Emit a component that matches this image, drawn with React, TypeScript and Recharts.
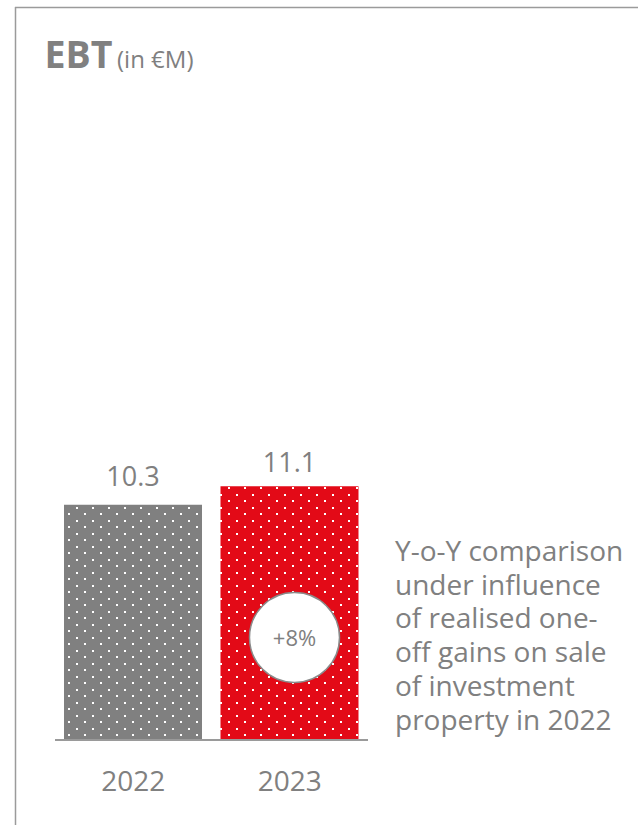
import React from "react";
import { BarChart, Bar, XAxis, YAxis, LabelList, Cell } from "recharts";

const years = ["2022", "2023"];
const ebt = [10.3, 11.1];
const barFills = ["url(#dotsGray)", "url(#dotsRed)"];
const titleMain = "EBT";
const titleUnit = "(in €M)";
const noteLines = [
  "Y-o-Y comparison",
  "under influence",
  "of realised one-",
  "off gains on sale",
  "of investment",
  "property in 2022",
];

const changePct = Math.round((ebt[1] / ebt[0] - 1) * 100);
const badges = ["", `+${changePct}%`];

const data = years.map((y, i) => ({ year: y, value: ebt[i], badge: badges[i] }));

const FONT = "'Open Sans', sans-serif";
const GRAY = "#808080";
const RED = "#E30A17";
const labelGaps = [19, 14];

const ValueLabel = (props: any) => {
  const { x, y, width, value } = props;
  const idx = ebt.indexOf(Number(value));
  const gap = labelGaps[idx >= 0 ? idx : 0];
  return (
    <text
      x={Number(x) + Number(width) / 2}
      y={Number(y) - gap}
      textAnchor="middle"
      fill={GRAY}
      fontSize={27}
      fontFamily={FONT}
    >
      {String(value)}
    </text>
  );
};

const Badge = (props: any) => {
  const { x, y, width, height, value } = props;
  if (!value) return null;
  const cx = Number(x) + Number(width) / 2 + 5;
  const cy = Number(y) + Number(height) - 102.5;
  return (
    <g>
      <circle cx={cx} cy={cy} r={45} fill="#ffffff" stroke="#8a8a8a" strokeWidth={1.5} />
      <text
        x={cx}
        y={cy + 8}
        textAnchor="middle"
        fill={GRAY}
        fontSize={22}
        fontFamily={FONT}
      >
        {String(value)}
      </text>
    </g>
  );
};

const YearTick = (props: any) => {
  const { x, y, payload } = props;
  return (
    <text
      x={x}
      y={y}
      dy={50.5}
      textAnchor="middle"
      fill={GRAY}
      fontSize={28}
      fontFamily={FONT}
    >
      {payload.value}
    </text>
  );
};

export default function App() {
  return (
    <div style={{ position: "absolute", left: 0, top: 0, width: 638, height: 825, background: "#fff" }}>
      <div style={{ position: "absolute", left: 0, top: 0 }}>
        <BarChart
          width={638}
          height={825}
          data={data}
          margin={{ top: 283, right: 270, bottom: 25, left: 55 }}
        >
          <defs>
            <pattern id="dotsGray" patternUnits="userSpaceOnUse" width={16} height={13}>
              <rect x={0} y={0} width={16} height={13} fill={GRAY} />
              <rect x={12} y={0} width={2} height={2} fill="#ffffff" />
              <rect x={4} y={6} width={2} height={2} fill="#ffffff" />
            </pattern>
            <pattern id="dotsRed" patternUnits="userSpaceOnUse" width={16} height={13}>
              <rect x={0} y={0} width={16} height={13} fill={RED} />
              <rect x={12} y={0} width={2} height={2} fill="#ffffff" />
              <rect x={4} y={6} width={2} height={2} fill="#ffffff" />
            </pattern>
          </defs>
          <XAxis
            dataKey="year"
            height={60}
            tickLine={false}
            tickSize={0}
            tickMargin={0}
            axisLine={{ stroke: "#9a9a9a", strokeWidth: 2 }}
            tick={<YearTick />}
            interval={0}
          />
          <YAxis hide domain={[0, 20]} />
          <Bar dataKey="value" barSize={138} isAnimationActive={false}>
            {data.map((d, i) => (
              <Cell key={d.year} fill={barFills[i]} />
            ))}
            <LabelList dataKey="value" content={<ValueLabel />} />
            <LabelList dataKey="badge" content={<Badge />} />
          </Bar>
        </BarChart>
      </div>
      <svg
        width={638}
        height={825}
        style={{ position: "absolute", left: 0, top: 0, pointerEvents: "none" }}
      >
        <line x1={15} y1={7.5} x2={638} y2={7.5} stroke="#9b9b9b" strokeWidth={1.5} />
        <line x1={15.5} y1={7} x2={15.5} y2={825} stroke="#9b9b9b" strokeWidth={1.5} />
        <text x={44.5} y={68.3} fill={GRAY} fontFamily={FONT} fontWeight={700} fontSize={37.5}>
          {titleMain}
        </text>
        <text x={117} y={68.3} fill={GRAY} fontFamily={FONT} fontSize={24}>
          {titleUnit}
        </text>
      </svg>
      <div
        style={{
          position: "absolute",
          left: 395,
          top: 534,
          fontFamily: FONT,
          fontSize: 28,
          lineHeight: "33.7px",
          color: GRAY,
          whiteSpace: "nowrap",
        }}
      >
        {noteLines.map((line, i) => (
          <React.Fragment key={i}>
            {i > 0 && <br />}
            {line}
          </React.Fragment>
        ))}
      </div>
    </div>
  );
}
